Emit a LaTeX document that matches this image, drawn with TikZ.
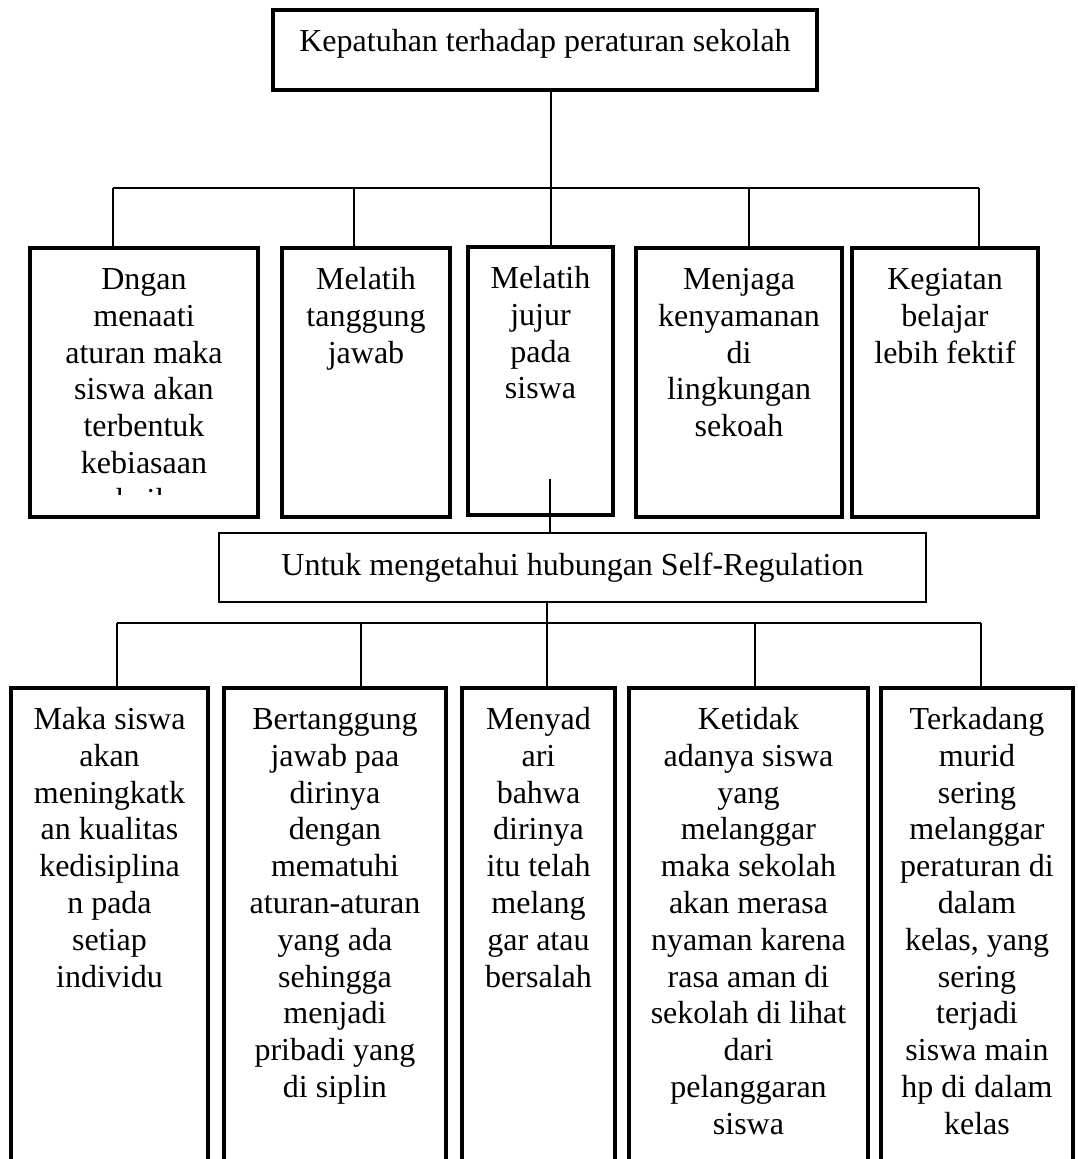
\documentclass[tikz,border=0pt]{standalone}
\usepackage{fontspec}
\setmainfont{Liberation Serif}
\usetikzlibrary{calc}

\newcommand{\boxfont}{\fontsize{12}{13.8}\selectfont}

\begin{document}
\begin{tikzpicture}[x=0.375pt,y=-0.375pt, every node/.style={align=center},
  cell/.style 2 args={draw, line width=1.3pt, minimum width=#1*0.375pt, minimum height=#2*0.375pt, inner sep=0pt},
  words/.style={font=\boxfont, anchor=north, inner sep=0pt},
  link/.style={line width=0.55pt}]
  \useasboundingbox (0,0) rectangle (1077,1159);
  \clip (0,0) rectangle (1077,1159);

  % top box
  \node[cell={544}{80}] (top) at (545,50) {};
  \node[words] (top-t) at ($(top.north)+(0,17)$) {\strut Kepatuhan terhadap peraturan sekolah};

  % first row
  \node[cell={228}{269}] (a1) at (144,382.5) {};
  \node[cell={168}{269}] (a2) at (366,382.5) {};
  \node[cell={145}{268}] (a3) at (540.5,381) {};
  \node[cell={206}{269}] (a4) at (739,382.5) {};
  \node[cell={186}{269}] (a5) at (945,382.5) {};
  \begin{scope}
    \clip (a1.north west) rectangle ($(a1.south east)+(0,-24)$);
    \node[words] (a1-t) at ($(a1.north)+(0,17)$) {\strut Dngan\\menaati\\aturan maka\\siswa akan\\terbentuk\\kebiasaan\\baik};
  \end{scope}
  \node[words] (a2-t) at ($(a2.north)+(0,17)$) {\strut Melatih\\tanggung\\jawab};
  \node[words] (a3-t) at ($(a3.north)+(0,17)$) {\strut Melatih\\jujur\\pada\\siswa};
  \node[words] (a4-t) at ($(a4.north)+(0,17)$) {\strut Menjaga\\kenyamanan\\di\\lingkungan\\sekoah};
  \node[words] (a5-t) at ($(a5.north)+(0,17)$) {\strut Kegiatan\\belajar\\lebih fektif};

  \coordinate (t1) at (113,188);
  \coordinate (t2) at (354,188);
  \coordinate (t3) at (551,188);
  \coordinate (t4) at (749,188);
  \coordinate (t5) at (979,188);
  \draw[link] (top.south -| t3) -- (t3);
  \draw[link] (t1) -- (t5);
  \foreach \i in {1,...,5}
    \draw[link] (t\i) -- (t\i |- a\i.north);

  % middle box
  \node[cell={707}{69}, line width=1.1pt, font=\boxfont] (mid) at (572.5,567.5) {Untuk mengetahui hubungan Self-Regulation};
  \coordinate (j) at (550,479);
  \draw[link] (j) -- (j |- mid.north);

  % second row
  \node[cell={197}{520}] (b1) at (109.5,948) {};
  \node[cell={222}{520}] (b2) at (335,948) {};
  \node[cell={153}{520}] (b3) at (538.5,948) {};
  \node[cell={239}{520}] (b4) at (748.5,948) {};
  \node[cell={192}{520}] (b5) at (977,948) {};
  \node[words] (b1-t) at ($(b1.north)+(0,17)$) {\strut Maka siswa\\akan\\meningkatk\\an kualitas\\kedisiplina\\n pada\\setiap\\individu};
  \node[words] (b2-t) at ($(b2.north)+(0,17)$) {\strut Bertanggung\\jawab paa\\dirinya\\dengan\\mematuhi\\aturan-aturan\\yang ada\\sehingga\\menjadi\\pribadi yang\\di siplin};
  \node[words] (b3-t) at ($(b3.north)+(0,17)$) {\strut Menyad\\ari\\bahwa\\dirinya\\itu telah\\melang\\gar atau\\bersalah};
  \node[words] (b4-t) at ($(b4.north)+(0,17)$) {\strut Ketidak\\adanya siswa\\yang\\melanggar\\maka sekolah\\akan merasa\\nyaman karena\\rasa aman di\\sekolah di lihat\\dari\\pelanggaran\\siswa};
  \node[words] (b5-t) at ($(b5.north)+(0,17)$) {\strut Terkadang\\murid\\sering\\melanggar\\peraturan di\\dalam\\kelas, yang\\sering\\terjadi\\siswa main\\hp di dalam\\kelas};

  \coordinate (s1) at (117,623);
  \coordinate (s2) at (361,623);
  \coordinate (s3) at (547,623);
  \coordinate (s4) at (755,623);
  \coordinate (s5) at (981,623);
  \draw[link] (mid.south -| s3) -- (s3);
  \draw[link] (s1) -- (s5);
  \foreach \i in {1,...,5}
    \draw[link] (s\i) -- (s\i |- b\i.north);
\end{tikzpicture}
\end{document}
